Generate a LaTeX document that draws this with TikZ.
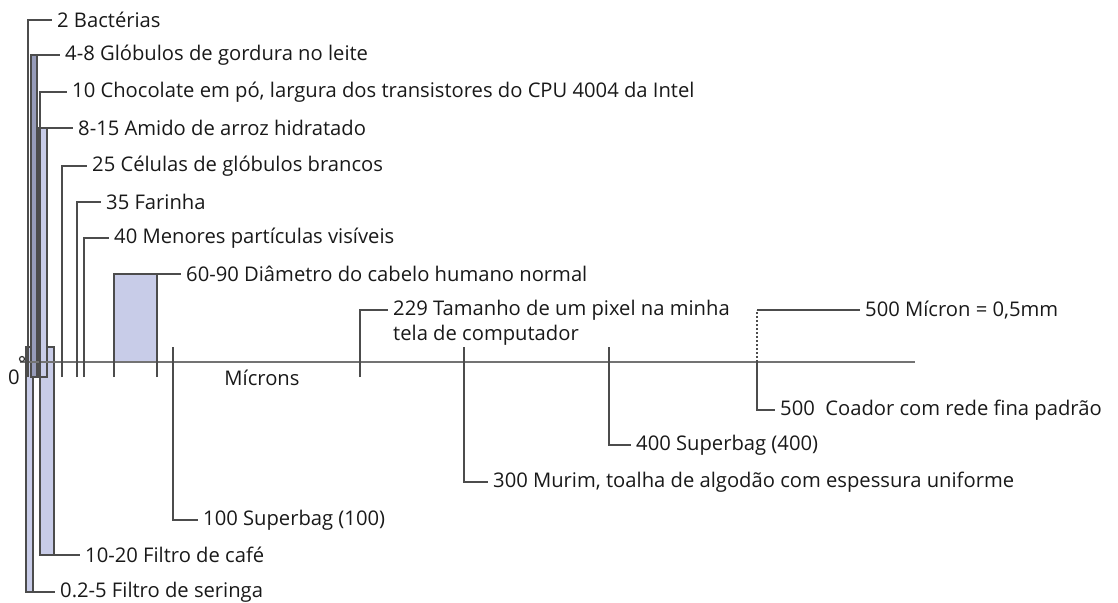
\documentclass[tikz,border=0pt]{standalone}
\usepackage{fontspec}
\setmainfont{Open Sans}
\definecolor{lav}{RGB}{200,204,232}
\definecolor{lavdark}{RGB}{150,155,185}
\definecolor{ink}{RGB}{25,25,25}
\begin{document}
\begin{tikzpicture}[x=1pt,y=-1pt,
  lbl/.style={anchor=west,inner xsep=5pt,inner ysep=0pt,text=ink,font=\fontsize{20.2}{24}\selectfont},
  lead/.style={draw=black!70,line width=1.6pt},
  axisline/.style={draw=black!55,line width=1.6pt},
  barfill/.style={fill=lav,draw=black!70,line width=1.4pt},
  darkbar/.style={fill=lavdark,draw=black!70,line width=1.4pt}]
\useasboundingbox (0,0) rectangle (1118,602);
% labels
\node[lbl] (b2) at (52,20) {2 Bactérias};
\node[lbl] (b48) at (60,55) {4-8 Glóbulos de gordura no leite};
\node[lbl] (b10) at (67,92) {10 Chocolate em pó, largura dos transistores do CPU 4004 da Intel};
\node[lbl] (b815) at (73,128) {8-15 Amido de arroz hidratado};
\node[lbl] (b25) at (87,166) {25 Células de glóbulos brancos};
\node[lbl] (b35) at (101,202) {35 Farinha};
\node[lbl] (b40) at (109,238) {40 Menores partículas visíveis};
\node[lbl] (b6090) at (181,274) {60-90 Diâmetro do cabelo humano normal};
\node[lbl] (b229) at (388,310) {229 Tamanho de um pixel na minha};
\node[lbl] (b229b) at (388,335) {tela de computador};
\node[lbl] (b500m) at (860,310) {500 Mícron = 0,5mm};
\node[lbl] (b500) at (775,410) {500~ Coador com rede fina padrão};
\node[lbl] (b400) at (631,445) {400 Superbag (400)};
\node[lbl] (b300) at (488,482) {300 Murim, toalha de algodão com espessura uniforme};
\node[lbl] (b100) at (198,520) {100 Superbag (100)};
\node[lbl] (b1020) at (80,555) {10-20 Filtro de café};
\node[lbl] (b025) at (55,592) {0.2-5 Filtro de seringa};
\node[lbl,inner xsep=0pt] (zero) at (8,377) {0};
\node[lbl,inner xsep=0pt,anchor=center] (mic) at (262,378) {Mícrons};
% lower bars
\draw[barfill] (26,347) rectangle (33,592);
\draw[barfill] (40,347) rectangle (54,555);
% upper bars
\draw[darkbar] (31,55) rectangle (37,377);
\draw[barfill] (38,128) rectangle (47,377);
\draw[barfill] (114,274) rectangle (157,362);
% axis
\coordinate (ax0) at (20,362);
\coordinate (ax1) at (915,362);
\draw[axisline] (ax0) -- (ax1);
\draw[black!80,line width=1.2pt] (22,359) circle (2.5);
% upper leaders
\draw[lead] (28,377) |- (b2.west);
\draw[lead] (31,55) -- (b48.west);
\draw[lead] (40,377) |- (b10.west);
\draw[lead] (38,128) -- (b815.west);
\draw[lead] (62,377) |- (b25.west);
\draw[lead] (77,377) |- (b35.west);
\draw[lead] (84,377) |- (b40.west);
\draw[lead] (114,377) -- (114,274) -- (b6090.west);
\draw[lead] (157,377) -- (157,274);
\draw[lead] (360,377) |- (b229.west);
% lower leaders
\draw[lead] (26,347) |- (b025.west);
\draw[lead] (40,347) |- (b1020.west);
\draw[lead] (173,347) |- (b100.west);
\draw[lead] (464,347) |- (b300.west);
\draw[lead] (609,347) |- (b400.west);
\coordinate (m500) at (757,362);
\draw[lead] (m500) |- (b500.west);
\draw[lead,dash pattern=on 2pt off 2pt,line width=1.3pt] (m500) -- (757,310);
\draw[lead] (757,310) -- (b500m.west);
\end{tikzpicture}
\end{document}
